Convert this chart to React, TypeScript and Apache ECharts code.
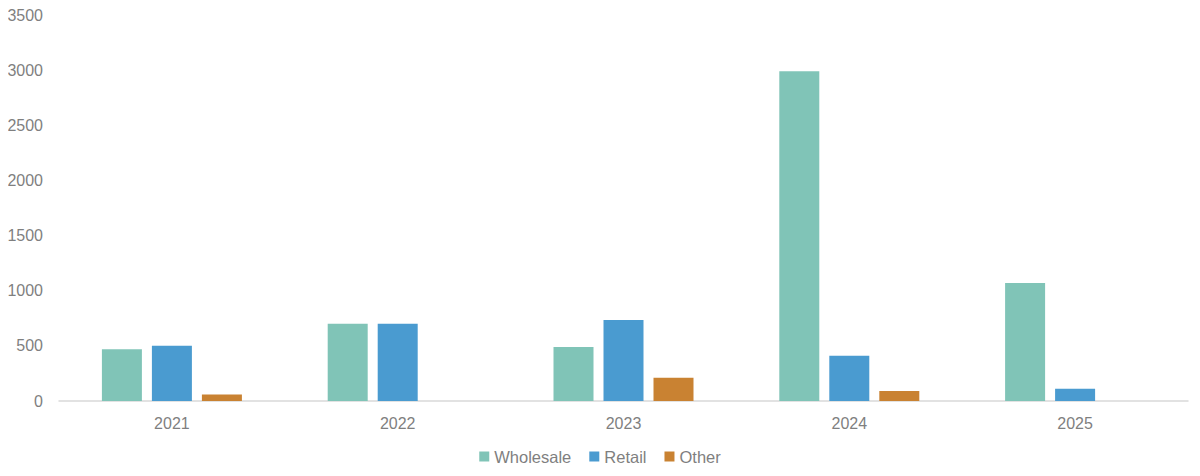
import React, { useEffect, useRef } from "react";
import * as echarts from "echarts";

const categories = ["2021", "2022", "2023", "2024", "2025"];
const wholesale = [470, 700, 490, 2990, 1070];
const retail = [500, 700, 735, 410, 110];
const other = [60, 0, 210, 90, 0];
const yTicks = [0, 500, 1000, 1500, 2000, 2500, 3000, 3500];

export default function App() {
  const ref = useRef<HTMLDivElement>(null);
  useEffect(() => {
    if (!ref.current) return;
    const chart = echarts.init(ref.current, undefined, { renderer: "svg" });
    const font = "Liberation Sans, Arial, sans-serif";
    const mk = (name: string, data: number[], color: string) => ({
      name,
      type: "bar",
      data,
      barWidth: 40,
      barGap: "25%",
      itemStyle: { color },
    });
    chart.setOption({
      animation: false,
      textStyle: { fontFamily: font },
      grid: { left: 59, right: 12, top: 15, bottom: 75, containLabel: false },
      legend: {
        bottom: 6,
        left: "center",
        icon: "rect",
        itemWidth: 10,
        itemHeight: 10,
        itemGap: 18,
        textStyle: { color: "#7f7f7f", fontSize: 16.5, fontFamily: font },
        data: ["Wholesale", "Retail", "Other"],
      },
      xAxis: {
        type: "category",
        data: categories,
        axisLine: { lineStyle: { color: "#d9d9d9", width: 1.5 } },
        axisTick: { show: false },
        axisLabel: { color: "#7f7f7f", fontSize: 16, margin: 14, fontFamily: font },
      },
      yAxis: {
        type: "value",
        min: yTicks[0],
        max: yTicks[yTicks.length - 1],
        interval: 500,
        splitLine: { show: false },
        axisLine: { show: false },
        axisTick: { show: false },
        axisLabel: {
          color: "#7f7f7f",
          fontSize: 16,
          margin: 16,
          fontFamily: font,
          formatter: (v: number) => String(v),
        },
      },
      series: [
        mk("Wholesale", wholesale, "#80C4B7"),
        mk("Retail", retail, "#4A9BD0"),
        mk("Other", other, "#C98232"),
      ],
    });
    return () => chart.dispose();
  }, []);
  return <div ref={ref} style={{ width: 1200, height: 476, margin: -8 }} />;
}
